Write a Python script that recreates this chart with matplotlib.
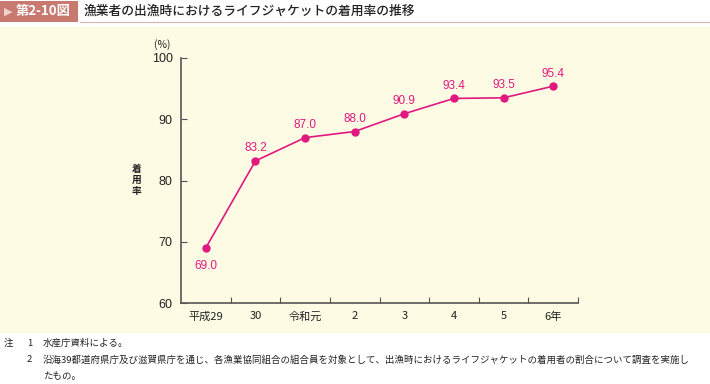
import matplotlib
matplotlib.use('Agg')
from matplotlib import pyplot as plt
from matplotlib.patches import Rectangle

plt.rcParams['font.family'] = ['Noto Sans CJK JP', 'DejaVu Sans']

years = ['平成29', '30', '令和元', '2', '3', '4', '5', '6年']
rate = [69.0, 83.2, 87.0, 88.0, 90.9, 93.4, 93.5, 95.4]
yticks = [60, 70, 80, 90, 100]

W, H = 710, 384
fig = plt.figure(figsize=(W / 100, H / 100), dpi=100)
fig.patch.set_facecolor('white')

def fx(px):
    return px / W

def fy(py):
    return 1 - py / H

num_font = ['Liberation Sans', 'Noto Sans CJK JP']

# yellow panel
fig.patches.append(Rectangle((0, fy(333)), 1, fy(27) - fy(333), transform=fig.transFigure,
                             facecolor='#fdfbe3', edgecolor='none', zorder=0))
# title label box
fig.patches.append(Rectangle((0, fy(22)), fx(78), fy(1) - fy(22), transform=fig.transFigure,
                             facecolor='#c97a70', edgecolor='none', zorder=1))
fig.add_artist(plt.Line2D([fx(80), 1], [fy(22), fy(22)], transform=fig.transFigure,
                          color='#d8b5ae', lw=0.8))
fig.text(fx(4), fy(11.5), '▶', color='#f0d0c8', fontsize=8, va='center', ha='left',
         family=['DejaVu Sans'])
fig.text(fx(16), fy(11.5), '第2-10図', color='white', fontsize=9.5, weight='bold',
         va='center', ha='left')
fig.text(fx(84), fy(11.5), '漁業者の出漁時におけるライフジャケットの着用率の推移', color='#222222',
         fontsize=9.2, weight='medium', va='center', ha='left')

ax = fig.add_axes([fx(181), fy(303), fx(578) - fx(181), fy(58) - fy(303)])
ax.set_zorder(5)
ax.set_facecolor('none')
pink = '#e0187f'
x = list(range(len(years)))
ax.plot(x, rate, color=pink, lw=1.2, marker='o', ms=5, zorder=3)
for i, v in enumerate(rate):
    off = -13 if i == 0 else 9
    ax.annotate(f'{v:.1f}', (i, v), xytext=(0, off), textcoords='offset points',
                ha='center', va='center', color=pink, fontsize=8.5, family=num_font)

ax.set_xlim(-0.5, len(years) - 0.5)
ax.set_ylim(60, 100)
ax.set_yticks(yticks)
ax.set_yticklabels([str(t) for t in yticks], family=num_font)
ax.set_xticks([i + 0.5 for i in range(len(years))])
ax.set_xticklabels([])
ax.set_xticks(x, minor=True)
ax.set_xticklabels(years, minor=True)
ax.tick_params(axis='x', which='minor', length=0, pad=6, labelsize=8, labelcolor='#222222')
ax.tick_params(axis='x', which='major', direction='in', length=4, color='#555555')
ax.tick_params(axis='y', direction='in', length=4, color='#555555', labelsize=9,
               labelcolor='#222222', pad=6)
for s in ['top', 'right']:
    ax.spines[s].set_visible(False)
for s in ['left', 'bottom']:
    ax.spines[s].set_color('#555555')
    ax.spines[s].set_linewidth(1.2)

fig.text(fx(162), fy(45), '(%)', fontsize=7.5, ha='center', va='center', color='#222222')
fig.text(fx(137), fy(180), '着\n用\n率', fontsize=7, ha='center', va='center',
         color='#222222', linespacing=1.15, weight='bold')

nfs = 6.8
fig.text(fx(4), fy(343), '注', fontsize=nfs, va='center', color='#222222')
fig.text(fx(27), fy(343), '1', fontsize=nfs, va='center', color='#222222')
fig.text(fx(43), fy(343), '水産庁資料による。', fontsize=nfs, va='center', color='#222222')
fig.text(fx(27), fy(360), '2', fontsize=nfs, va='center', color='#222222')
fig.text(fx(43), fy(360),
         '沿海39都道府県庁及び滋賀県庁を通じ、各漁業協同組合の組合員を対象として、出漁時におけるライフジャケットの着用者の割合について調査を実施し',
         fontsize=nfs, va='center', color='#222222')
fig.text(fx(43), fy(376), 'たもの。', fontsize=nfs, va='center', color='#222222')

fig.savefig('out.png', dpi=100)
